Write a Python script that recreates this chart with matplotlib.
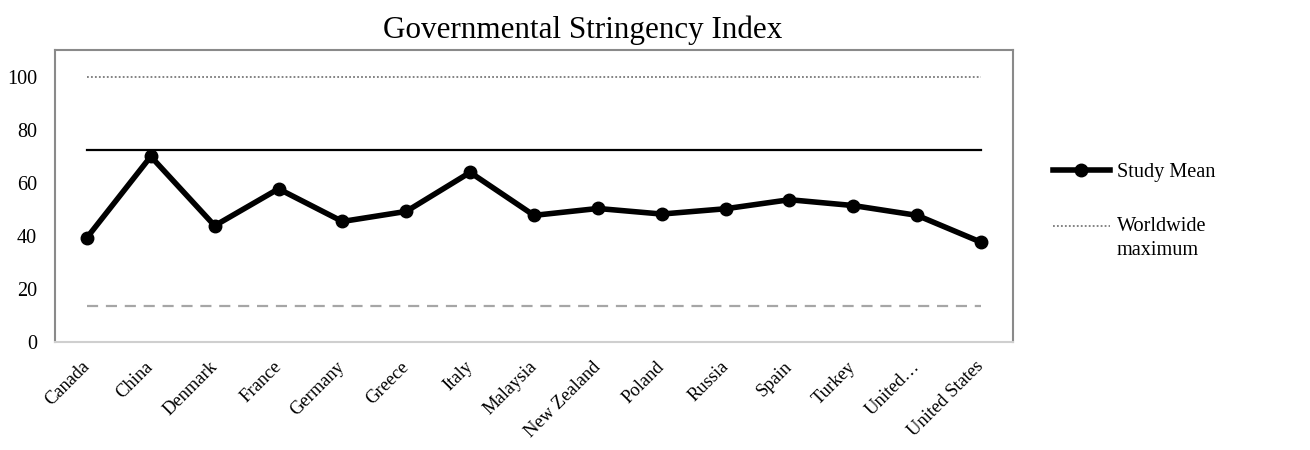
import matplotlib
matplotlib.use("Agg")
import matplotlib.pyplot as plt
from matplotlib.lines import Line2D
from matplotlib.legend_handler import HandlerLine2D

plt.rcParams['font.family'] = ['Liberation Serif', 'DejaVu Serif']

countries = ["Canada", "China", "Denmark", "France", "Germany", "Greece", "Italy",
             "Malaysia", "New Zealand", "Poland", "Russia", "Spain", "Turkey",
             "United…", "United States"]
study_mean = [39.3, 69.9, 43.8, 57.7, 45.4, 49.2, 63.9, 47.7, 50.3, 48.2, 50.2,
              53.6, 51.4, 47.7, 37.6]
worldwide_max = 100
upper_ref = 72.4
lower_ref = 13.7
yticks = [0, 20, 40, 60, 80, 100]

fig = plt.figure(figsize=(13.1, 4.5), dpi=100)
ax = fig.add_axes([55/1310, 1 - 342/450, (1013 - 55)/1310, (342 - 50)/450])

x = list(range(len(countries)))
ax.plot(x, [worldwide_max]*len(x), color='#7a7a7a', lw=1.3, ls=(0, (1, 1.2)))
ax.plot(x, [upper_ref]*len(x), color='black', lw=1.6)
ax.plot(x, [lower_ref]*len(x), color='#a6a6a6', lw=1.6, ls=(0, (5, 3.5)))
ax.plot(x, study_mean, color='black', lw=4, marker='o', ms=9)

ax.set_xlim(-0.5, len(x) - 0.5)
ax.set_ylim(0, 110)
ax.set_yticks(yticks)
ax.set_xticks(x)
ax.set_xticklabels(countries)
ax.tick_params(axis='both', length=0)
ax.tick_params(axis='y', pad=13, labelsize=14.5)
ax.tick_params(axis='x', pad=16, labelsize=13.3)
for lbl in ax.get_xticklabels():
    lbl.set_rotation(45)
    lbl.set_rotation_mode('anchor')
    lbl.set_ha('right')
    lbl.set_va('center')

for s in ['left', 'top', 'right']:
    ax.spines[s].set_color('#8a8a8a')
    ax.spines[s].set_linewidth(1.5)
ax.spines['bottom'].set_color('#cfcfcf')
ax.spines['bottom'].set_linewidth(1.5)

fig.text(583/1310, 1 - 30/450, "Governmental Stringency Index", ha='center',
         va='center', fontsize=22.4)


class ShiftedHandler(HandlerLine2D):
    def __init__(self, dy=0.0, **kw):
        super().__init__(**kw)
        self.dy = dy

    def create_artists(self, legend, orig_handle, xdescent, ydescent, width,
                       height, fontsize, trans):
        arts = super().create_artists(legend, orig_handle, xdescent, ydescent,
                                      width, height, fontsize, trans)
        for a in arts:
            a.set_ydata([y + self.dy * height for y in a.get_ydata()])
        return arts


h_mean = Line2D([], [], color='black', lw=4, marker='o', ms=9)
h_max = Line2D([], [], color='#7a7a7a', lw=1.3, ls=(0, (1, 1.2)))
leg = ax.legend([h_mean, h_max], ["Study Mean", "Worldwide\nmaximum"],
                loc='upper left', bbox_to_anchor=(1053/1310, 1 - 163/450),
                bbox_transform=fig.transFigure, frameon=False, fontsize=14.6,
                handlelength=2.8, handletextpad=0.35, labelspacing=1.7,
                borderaxespad=0, borderpad=0,
                handler_map={h_max: ShiftedHandler(dy=0.85)})
leg.get_texts()[1].set_linespacing(1.4)

fig.savefig("out.png", dpi=100)
